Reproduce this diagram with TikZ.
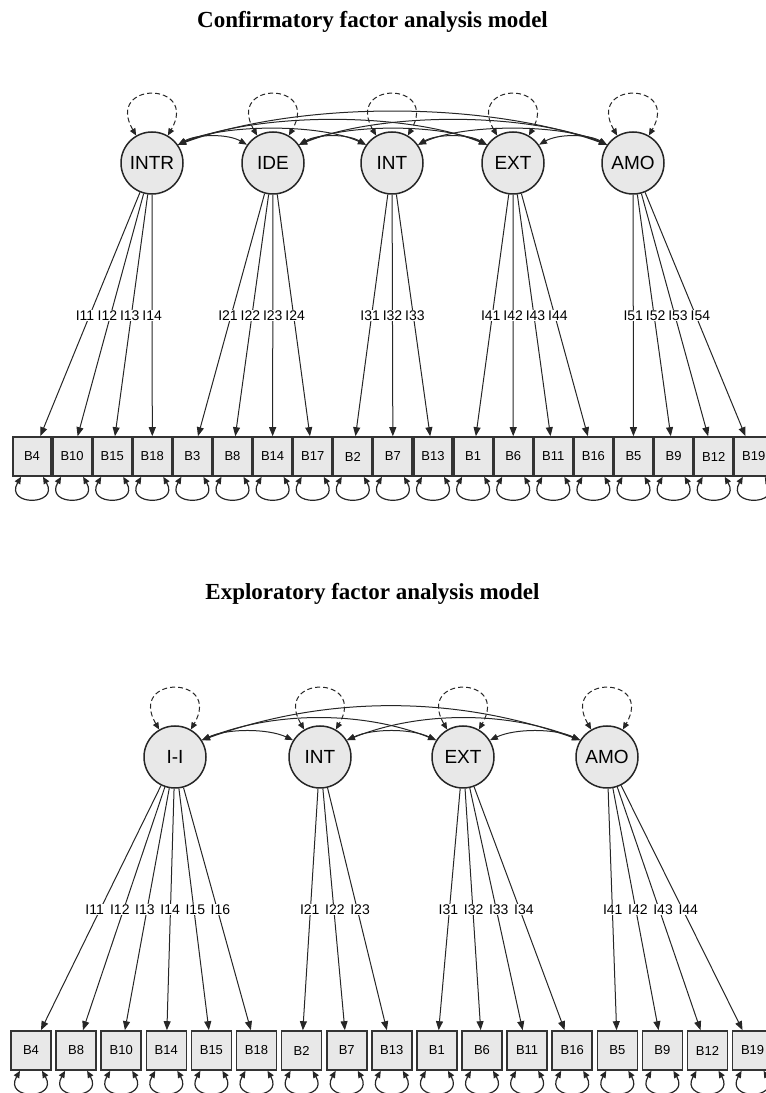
\documentclass[tikz,border=0pt]{standalone}
\usepackage{fontspec}
\setmainfont{Liberation Serif}
\newfontfamily\semfont{Liberation Sans}
\usetikzlibrary{arrows.meta}

\begin{document}
\begin{tikzpicture}[x=1pt,y=1pt,
  latent/.style={circle, draw=black!85, line width=1.5pt, fill=black!9,
    minimum size=62pt, inner sep=0pt, font=\semfont\fontsize{19}{19}\selectfont},
  manifest/.style={rectangle, draw=black!80, line width=1.6pt, fill=black!9,
    minimum height=39pt, inner sep=0pt, font=\semfont\fontsize{13}{13}\selectfont},
  loading/.style={line width=1pt, black!85, -{Triangle[length=9pt,width=7pt]}},
  lbl/.style={fill=white, inner sep=0.4pt, font=\semfont\fontsize{14}{14}\selectfont},
  cov/.style={line width=1pt, black!85, {Triangle[length=8pt,width=6pt]}-{Triangle[length=8pt,width=6pt]}},
  latvar/.style={line width=1pt, black!85, dash pattern=on 5pt off 3pt,
    {Triangle[length=7pt,width=6pt]}-{Triangle[length=7pt,width=6pt]}},
  resvar/.style={line width=1.2pt, black!85, {Triangle[length=7pt,width=6pt]}-{Triangle[length=7pt,width=6pt]}},
  heading/.style={anchor=base, inner sep=0pt, font=\bfseries\fontsize{23}{23}\selectfont}
]
\useasboundingbox (0,0) rectangle (766,1093);
\clip (0,0) rectangle (766,1093);

% ---------------- Confirmatory model ----------------
\node[heading] (ttitle) at (372.5,1065) {Confirmatory factor analysis model};

\foreach \n/\x in {INTR/152,IDE/273,INT/392,EXT/513,AMO/633}
  \node[latent] (t\n) at (\x,930) {\n};

\foreach \b [count=\i from 0] in {4,10,15,18,3,8,14,17,2,7,13,1,6,11,16,5,9,12,19}
  \node[manifest, minimum width=38.5pt] (tB\b) at ({32+40.1*\i},636.5) {B\b};

% factor loadings, labels kept on one common height
\foreach \f/\list/\k in {INTR/{4,10,15,18}/1, IDE/{3,8,14,17}/2, INT/{2,7,13}/3,
                         EXT/{1,6,11,16}/4, AMO/{5,9,12,19}/5}
  \foreach \b [count=\j] in \list
  {
    \draw[loading] (t\f) -- (tB\b);
    \path (t\f.center) -- node[lbl, pos=0.558] {I\k\j} (tB\b.north);
  }

% factor covariances
\foreach \a/\b/\ang/\dist in {INTR/IDE/30/22, IDE/INT/30/22, INT/EXT/30/22, EXT/AMO/30/22,
                               INTR/INT/25/50, IDE/EXT/25/50, INT/AMO/25/50,
                               INTR/EXT/22/88, IDE/AMO/22/88, INTR/AMO/20/129}
{
  \pgfmathsetmacro\inang{180-\ang}
  \draw[cov] (t\a.35) to[out=\ang, in=\inang, distance=\dist pt] (t\b.145);
}

% factor variances
\foreach \n in {INTR,IDE,INT,EXT,AMO}
  \draw[latvar] (t\n.120) .. controls +(120:63) and +(60:63) .. (t\n.60);

% residual variances
\foreach \b in {4,10,15,18,3,8,14,17,2,7,13,1,6,11,16,5,9,12,19}
  \draw[resvar] ([xshift=-11pt]tB\b.south) .. controls +(240:34) and +(300:34) .. ([xshift=11pt]tB\b.south);

% ---------------- Exploratory model ----------------
\node[heading] (btitle) at (372.5,493.5) {Exploratory factor analysis model};

\foreach \n/\t/\x in {II/I-I/175,INT/INT/320,EXT/EXT/463,AMO/AMO/607}
  \node[latent] (b\n) at (\x,336) {\t};

\foreach \b [count=\i from 0] in {4,8,10,14,15,18,2,7,13,1,6,11,16,5,9,12,19}
  \node[manifest, minimum width=40pt] (bB\b) at ({31+45.1*\i},42.5) {B\b};

\foreach \f/\list/\k in {II/{4,8,10,14,15,18}/1, INT/{2,7,13}/2,
                         EXT/{1,6,11,16}/3, AMO/{5,9,12,19}/4}
  \foreach \b [count=\j] in \list
  {
    \draw[loading] (b\f) -- (bB\b);
    \path (b\f.center) -- node[lbl, pos=0.558] {I\k\j} (bB\b.north);
  }

\foreach \a/\b/\ang/\dist in {II/INT/25/28, INT/EXT/25/28, EXT/AMO/25/28,
                               II/EXT/22/78, INT/AMO/22/78, II/AMO/20/132}
{
  \pgfmathsetmacro\inang{180-\ang}
  \draw[cov] (b\a.32) to[out=\ang, in=\inang, distance=\dist pt] (b\b.148);
}

\foreach \n in {II,INT,EXT,AMO}
  \draw[latvar] (b\n.120) .. controls +(120:63) and +(60:63) .. (b\n.60);

\foreach \b in {4,8,10,14,15,18,2,7,13,1,6,11,16,5,9,12,19}
  \draw[resvar] ([xshift=-11pt]bB\b.south) .. controls +(240:34) and +(300:34) .. ([xshift=11pt]bB\b.south);
\end{tikzpicture}
\end{document}
